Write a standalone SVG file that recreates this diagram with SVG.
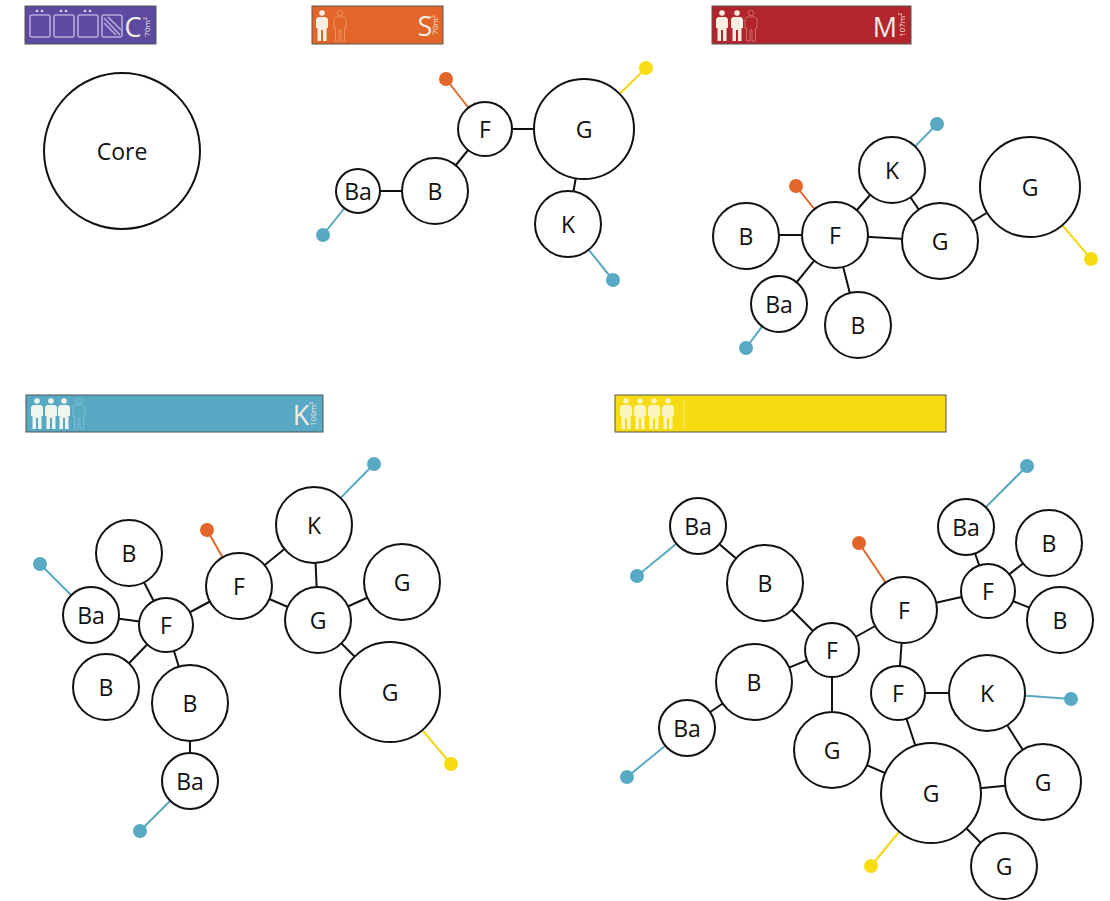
<svg xmlns="http://www.w3.org/2000/svg" width="1110" height="901" viewBox="0 0 1110 901">
<style>
text{font-family:"Open Sans","Noto Sans","Liberation Sans",sans-serif}
.n{fill:#fff;stroke:#111;stroke-width:2}
.t{font-size:23px;fill:#111;text-anchor:middle;dominant-baseline:central}
.e{stroke:#111;stroke-width:2;fill:none}
.bl{stroke:#58a9c4;stroke-width:2;fill:none}
.or{stroke:#e2662a;stroke-width:2;fill:none}
.ye{stroke:#f2d612;stroke-width:2;fill:none}
.dbl{fill:#58a9c4}.dor{fill:#e2662a}.dye{fill:#f6dc10}
.bar{stroke:#555;stroke-width:1}
.lab{fill:#f3ece4;font-size:27px;text-anchor:middle}
.sm{fill:#f3ece4;font-size:8px;text-anchor:middle}
.box{fill:none;stroke:#b5abdd;stroke-width:1.6}
.ghost{fill:none;stroke-width:.7}
</style>
<defs>
<symbol id="p" viewBox="0 0 12 31" width="12" height="31" overflow="visible"><circle cx="6" cy="3" r="2.8"/><path d="M2 7H10L12 9V18H10.5V31H7V20H5V31H1.5V18H0V9Z"/></symbol>
</defs>
<g id="bar-c"><rect class="bar" x="25" y="6" width="131" height="38" fill="#5b4a9f"/>
<g class="box"><rect x="30" y="15" width="20" height="22" rx="2"/><rect x="54" y="15" width="20" height="22" rx="2"/><rect x="78" y="15" width="20" height="22" rx="2"/><rect x="102" y="15" width="20" height="22" rx="2"/><path d="M104 18L120 35M104 23L116 35M108 17L121 30"/></g>
<g fill="#d8d2ee"><circle cx="37" cy="11" r="1.3"/><circle cx="42" cy="11" r="1.3"/><circle cx="61" cy="11" r="1.3"/><circle cx="66" cy="11" r="1.3"/><circle cx="85" cy="11" r="1.3"/><circle cx="90" cy="11" r="1.3"/></g>
<text class="lab" x="133" y="37">C</text><text class="sm" transform="translate(150 27) rotate(-90)">70m²</text></g>
<g id="bar-s"><rect class="bar" x="312" y="6" width="131" height="38" fill="#e2662a"/>
<use href="#p" x="316" y="10" fill="#fbeee2"/><use class="ghost" href="#p" x="334" y="10" stroke="#eda577"/>
<text class="lab" x="425" y="36">S</text><text class="sm" transform="translate(438 25) rotate(-90)">70m²</text></g>
<g id="bar-m"><rect class="bar" x="712" y="6" width="199" height="38" fill="#b2252c"/>
<use href="#p" x="716" y="10" fill="#fbeee2"/><use href="#p" x="731" y="10" fill="#fbeee2"/><use class="ghost" href="#p" x="745" y="10" stroke="#d98a80"/>
<text class="lab" x="885" y="37">M</text><text class="sm" transform="translate(905 25) rotate(-90)">107m²</text></g>
<g id="bar-k"><rect class="bar" x="26" y="395" width="297" height="37" fill="#58a9c4"/>
<use href="#p" x="31" y="398" fill="#f0f5ee"/><use href="#p" x="45" y="398" fill="#f0f5ee"/><use href="#p" x="58" y="398" fill="#f0f5ee"/><use class="ghost" href="#p" x="73" y="398" stroke="#8cc4d6"/>
<text class="lab" x="301" y="425">K</text><text class="sm" transform="translate(316 414) rotate(-90)">100m²</text></g>
<g id="bar-y"><rect class="bar" x="615" y="395" width="331" height="37" fill="#f6dc10"/>
<use href="#p" x="620" y="398" fill="#faf4c0"/><use href="#p" x="634" y="398" fill="#faf4c0"/><use href="#p" x="648" y="398" fill="#faf4c0"/><use href="#p" x="662" y="398" fill="#faf4c0"/><path d="M684 400V429" stroke="#fae98a" stroke-width="1"/></g>
<g id="connectors">
<path class="e" d="M358 191H435M435 191L485 129M485 129H584M584 129L568 224"/>
<path class="or" d="M446 79L485 129"/><path class="ye" d="M646 68L584 129"/><path class="bl" d="M323 235L358 191M613 280L568 224"/>
<path class="e" d="M835 235H746M835 235L779 304M835 235L858 325M835 235L892 170M892 170L940 241M835 235L940 241M940 241L1030 187"/>
<path class="bl" d="M937 124L892 170M746 348L779 304"/><path class="or" d="M796 186L835 235"/><path class="ye" d="M1091 259L1030 187"/>
<path class="e" d="M314 525L239 586M314 525L318 620M239 586L318 620M318 620L402 582M318 620L390 692M239 586L166 625M166 625L129 553M166 625L91 615M166 625L106 687M166 625L190 703M190 703V781"/>
<path class="bl" d="M374 464L314 525M40 564L91 615M140 831L190 781"/><path class="or" d="M207 530L239 586"/><path class="ye" d="M451 764L390 692"/>
<path class="e" d="M698 526L765 583M765 583L832 650M832 650L754 682M754 682L687 728M832 650V750M832 650L904 610M904 610L988 591M988 591L966 527M988 591L1049 543M988 591L1060 620M904 610L898 693M898 693H987M898 693L931 793M987 693L1043 782M1043 782L931 793M931 793L1004 866M832 750L931 793"/>
<path class="bl" d="M637 576L698 526M1027 466L966 527M1071 699L987 693M627 777L687 728"/><path class="or" d="M859 543L904 610"/><path class="ye" d="M871 866L931 793"/>
<g class="dor"><circle cx="446" cy="79" r="7"/><circle cx="796" cy="186" r="7"/><circle cx="207" cy="530" r="7"/><circle cx="859" cy="543" r="7"/></g>
<g class="dye"><circle cx="646" cy="68" r="7"/><circle cx="1091" cy="259" r="7"/><circle cx="451" cy="764" r="7"/><circle cx="871" cy="866" r="7"/></g>
<g class="dbl"><circle cx="323" cy="235" r="7"/><circle cx="613" cy="280" r="7"/><circle cx="937" cy="124" r="7"/><circle cx="746" cy="348" r="7"/><circle cx="374" cy="464" r="7"/><circle cx="40" cy="564" r="7"/><circle cx="140" cy="831" r="7"/><circle cx="1027" cy="466" r="7"/><circle cx="1071" cy="699" r="7"/><circle cx="637" cy="576" r="7"/><circle cx="627" cy="777" r="7"/></g>
</g>
<g id="core"><circle class="n" cx="122" cy="151" r="78"/><text class="t" x="122" y="151">Core</text></g>
<g id="s-ba"><circle class="n" cx="358" cy="191" r="22"/><text class="t" x="358" y="191">Ba</text></g>
<g id="s-b"><circle class="n" cx="435" cy="191" r="33"/><text class="t" x="435" y="191">B</text></g>
<g id="s-f"><circle class="n" cx="485" cy="129" r="27"/><text class="t" x="485" y="129">F</text></g>
<g id="s-g"><circle class="n" cx="584" cy="129" r="50"/><text class="t" x="584" y="129">G</text></g>
<g id="s-k"><circle class="n" cx="568" cy="224" r="33"/><text class="t" x="568" y="224">K</text></g>
<g id="m-k"><circle class="n" cx="892" cy="170" r="33"/><text class="t" x="892" y="170">K</text></g>
<g id="m-g1"><circle class="n" cx="1030" cy="187" r="50"/><text class="t" x="1030" y="187">G</text></g>
<g id="m-g2"><circle class="n" cx="940" cy="241" r="38"/><text class="t" x="940" y="241">G</text></g>
<g id="m-f"><circle class="n" cx="835" cy="235" r="33"/><text class="t" x="835" y="235">F</text></g>
<g id="m-b1"><circle class="n" cx="746" cy="236" r="33"/><text class="t" x="746" y="236">B</text></g>
<g id="m-ba"><circle class="n" cx="779" cy="304" r="28"/><text class="t" x="779" y="304">Ba</text></g>
<g id="m-b2"><circle class="n" cx="858" cy="325" r="33"/><text class="t" x="858" y="325">B</text></g>
<g id="k-k"><circle class="n" cx="314" cy="525" r="38"/><text class="t" x="314" y="525">K</text></g>
<g id="k-g1"><circle class="n" cx="402" cy="582" r="38"/><text class="t" x="402" y="582">G</text></g>
<g id="k-f1"><circle class="n" cx="239" cy="586" r="33"/><text class="t" x="239" y="586">F</text></g>
<g id="k-g2"><circle class="n" cx="318" cy="620" r="33"/><text class="t" x="318" y="620">G</text></g>
<g id="k-g3"><circle class="n" cx="390" cy="692" r="50"/><text class="t" x="390" y="692">G</text></g>
<g id="k-b1"><circle class="n" cx="129" cy="553" r="33"/><text class="t" x="129" y="553">B</text></g>
<g id="k-ba1"><circle class="n" cx="91" cy="615" r="28"/><text class="t" x="91" y="615">Ba</text></g>
<g id="k-f2"><circle class="n" cx="166" cy="625" r="27"/><text class="t" x="166" y="625">F</text></g>
<g id="k-b2"><circle class="n" cx="106" cy="687" r="33"/><text class="t" x="106" y="687">B</text></g>
<g id="k-b3"><circle class="n" cx="190" cy="703" r="38"/><text class="t" x="190" y="703">B</text></g>
<g id="k-ba2"><circle class="n" cx="190" cy="781" r="28"/><text class="t" x="190" y="781">Ba</text></g>
<g id="y-ba1"><circle class="n" cx="698" cy="526" r="28"/><text class="t" x="698" y="526">Ba</text></g>
<g id="y-b1"><circle class="n" cx="765" cy="583" r="38"/><text class="t" x="765" y="583">B</text></g>
<g id="y-f1"><circle class="n" cx="832" cy="650" r="27"/><text class="t" x="832" y="650">F</text></g>
<g id="y-b2"><circle class="n" cx="754" cy="682" r="38"/><text class="t" x="754" y="682">B</text></g>
<g id="y-ba2"><circle class="n" cx="687" cy="728" r="28"/><text class="t" x="687" y="728">Ba</text></g>
<g id="y-g1"><circle class="n" cx="832" cy="750" r="38"/><text class="t" x="832" y="750">G</text></g>
<g id="y-f2"><circle class="n" cx="904" cy="610" r="33"/><text class="t" x="904" y="610">F</text></g>
<g id="y-f3"><circle class="n" cx="988" cy="591" r="27"/><text class="t" x="988" y="591">F</text></g>
<g id="y-ba3"><circle class="n" cx="966" cy="527" r="28"/><text class="t" x="966" y="527">Ba</text></g>
<g id="y-b3"><circle class="n" cx="1049" cy="543" r="33"/><text class="t" x="1049" y="543">B</text></g>
<g id="y-b4"><circle class="n" cx="1060" cy="620" r="33"/><text class="t" x="1060" y="620">B</text></g>
<g id="y-f4"><circle class="n" cx="898" cy="693" r="27"/><text class="t" x="898" y="693">F</text></g>
<g id="y-k"><circle class="n" cx="987" cy="693" r="38"/><text class="t" x="987" y="693">K</text></g>
<g id="y-g2"><circle class="n" cx="1043" cy="782" r="38"/><text class="t" x="1043" y="782">G</text></g>
<g id="y-g3"><circle class="n" cx="931" cy="793" r="50"/><text class="t" x="931" y="793">G</text></g>
<g id="y-g4"><circle class="n" cx="1004" cy="866" r="33"/><text class="t" x="1004" y="866">G</text></g>
</svg>
